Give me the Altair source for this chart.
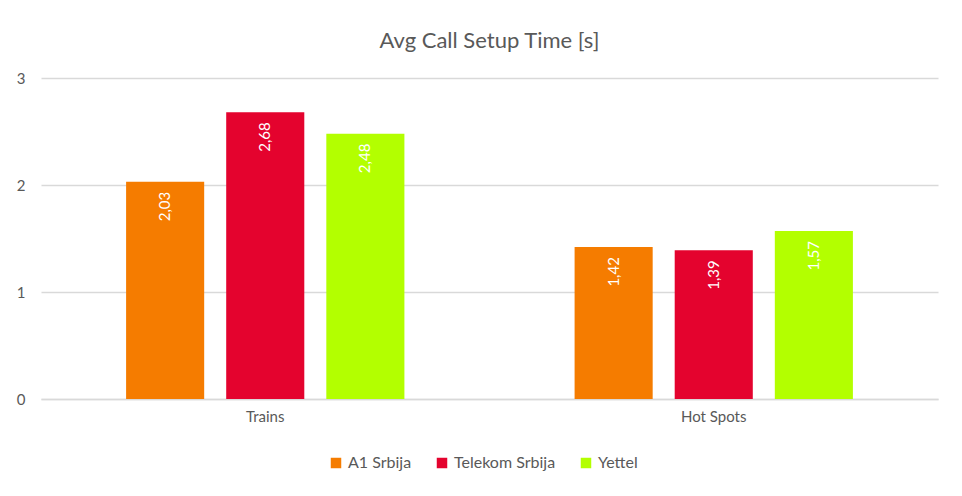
import altair as alt
import pandas as pd

GROUPS = ["Trains", "Hot Spots"]
OPERATORS = ["A1 Srbija", "Telekom Srbija", "Yettel"]
TRAINS = [2.03, 2.68, 2.48]
HOT_SPOTS = [1.42, 1.39, 1.57]
COLORS = ["#F57C00", "#E4032E", "#B3FF00"]

FONT = "Lato"
GREY = "#595959"

rows = []
for group, values in zip(GROUPS, [TRAINS, HOT_SPOTS]):
    for op, v in zip(OPERATORS, values):
        rows.append({"group": group, "operator": op, "value": v})
df = pd.DataFrame(rows)

base = alt.Chart(df).encode(
    x=alt.X(
        "group:N",
        sort=GROUPS,
        title=None,
        scale=alt.Scale(paddingInner=0, paddingOuter=0),
        axis=alt.Axis(labelAngle=0, ticks=False, domainColor="#d9d9d9", domainWidth=1.3,
                      labelPadding=10, labelFontSize=15, labelColor=GREY, labelFont=FONT),
    ),
    xOffset=alt.XOffset(
        "operator:N", sort=OPERATORS,
        scale=alt.Scale(paddingInner=0.22, paddingOuter=0.85),
    ),
    y=alt.Y(
        "value:Q",
        title=None,
        scale=alt.Scale(domain=[0, 3]),
        axis=alt.Axis(values=[0, 1, 2, 3], format="d", ticks=False, domain=False,
                      gridColor="#d9d9d9", gridWidth=1.3, labelPadding=16, labelFontSize=15,
                      labelColor=GREY, labelFont=FONT),
    ),
)

bars = base.mark_bar().encode(
    color=alt.Color(
        "operator:N",
        sort=OPERATORS,
        scale=alt.Scale(domain=OPERATORS, range=COLORS),
        legend=alt.Legend(
            title=None, orient="none", legendX=287, legendY=377, direction="horizontal",
            symbolType="square", symbolSize=110, symbolStrokeWidth=0, labelFontSize=16,
            labelColor=GREY, labelFont=FONT, columnPadding=22, labelOffset=4,
        ),
    )
)

labels = base.mark_text(
    angle=270, align="right", baseline="middle", dx=-10, color="white", fontSize=15, font=FONT,
).transform_calculate(
    label="replace(format(datum.value, '.2f'), '.', ',')"
).encode(text="label:N")

chart = (
    (bars + labels)
    .properties(
        width=897,
        height=321,
        padding={"left": 33, "top": 70, "right": 16, "bottom": 89},
        autosize=alt.AutoSizeParams(type="none"),
        title=alt.TitleParams(
            "Avg Call Setup Time [s]", fontSize=22, font=FONT, fontWeight="normal",
            color=GREY, anchor="middle", offset=18,
        ),
    )
    .configure_view(stroke=None)
)

chart.save("out.html", embed_options={"renderer": "svg", "actions": False})
